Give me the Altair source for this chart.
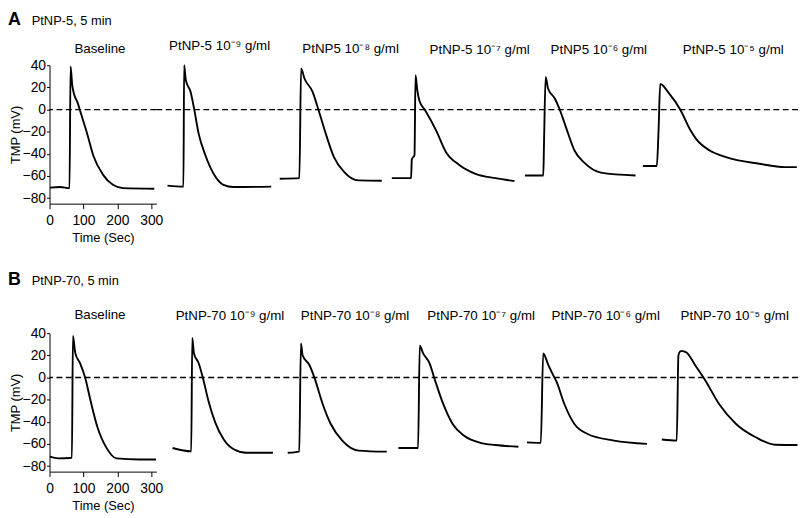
import altair as alt
import pandas as pd

FONT = "Liberation Sans"

# ---------------- Row A : PtNP-5, 5 min ----------------
a_heading = ["A", "PtNP-5, 5 min"]
a_titles = ["Baseline", "PtNP-5 10⁻⁹ g/ml", "PtNP5 10⁻⁸ g/ml",
            "PtNP-5 10⁻⁷ g/ml", "PtNP5 10⁻⁶ g/ml", "PtNP-5 10⁻⁵ g/ml"]

a0_t = [1, 32, 59, 62, 67, 73, 83, 92, 110, 129, 158, 187, 217, 309]
a0_v = [-70.5, -70, -71, 39, 22, 13.3, 6, -3, -20.7, -41.5, -59, -68, -71, -71.5]

a1_t = [33, 80, 82, 87, 101, 111, 125, 145, 169, 198, 227, 339]
a1_v = [-68.7, -69.6, 40, 26.7, 16, 1.5, -22, -41.5, -58, -68, -70, -69.6]

a2_t = [14, 72, 77, 87, 111, 125, 150, 174, 203, 247, 315]
a2_v = [-62.5, -62, 37, 28, 16, 3, -22, -43, -56, -64, -64.3]

a3_t = [15, 72, 74, 82, 85, 90, 97, 112, 146, 175, 214, 262, 321, 377]
a3_v = [-62, -62, -45, -41, 31, 18, 7.4, 0, -19, -38.5, -50, -58, -62, -64.6]

a4_t = [17, 71, 73, 78, 85, 105, 117, 139, 163, 192, 241, 343]
a4_v = [-59.6, -59.6, -33, 29.5, 19, 10, 2, -17, -37, -48, -57, -59.6]

a5_t = [12, 53, 58, 63, 88, 122, 151, 170, 209, 257, 355, 431, 466]
a5_v = [-51, -51, -20, 23, 15, 0, -18, -27, -37, -43, -49, -52, -52]

# ---------------- Row B : PtNP-70, 5 min ----------------
b_heading = ["B", "PtNP-70, 5 min"]
b_titles = ["Baseline", "PtNP-70 10⁻⁹ g/ml", "PtNP-70 10⁻⁸ g/ml",
            "PtNP-70 10⁻⁷ g/ml", "PtNP-70 10⁻⁶ g/ml", "PtNP-70 10⁻⁵ g/ml"]

b0_t = [1, 26, 66, 69, 76, 90, 105, 120, 140, 169, 197, 265, 314]
b0_v = [-71.5, -73, -72.5, 37.5, 22, 13, 0, -19.6, -43.5, -64, -73, -74, -74]

b1_t = [48, 103, 106, 111, 125, 138, 154, 174, 198, 227, 266, 344]
b1_v = [-63.7, -66.7, 35.7, 21.7, 12.8, -1.2, -21.4, -40.8, -55.6, -64.6, -68, -68]

b2_t = [23, 57, 62, 67, 87, 103, 125, 150, 184, 232, 315]
b2_v = [-68, -67, 30.7, 20, 11.3, -1.2, -23, -42, -57, -66, -67]

b3_t = [17, 75, 80, 90, 109, 123, 148, 177, 211, 259, 303, 371]
b3_v = [-63.7, -63.7, 28.6, 21.7, 12.8, -0.6, -23, -42, -52.7, -59, -61, -62.5]

b4_t = [14, 55, 62, 77, 91, 101, 125, 154, 193, 271, 368]
b4_v = [-58.6, -59, 21.7, 11.3, 2.4, -3.6, -24.4, -42, -51, -57, -60]

b5_t = [24, 68, 73, 78, 83, 90, 97, 122, 151, 194, 243, 301, 359, 424]
b5_v = [-56, -57, 20, 23.5, 24, 23.5, 22.6, 11.3, -2, -24.4, -42, -54, -60.7, -61]

y_ticks = [-80, -60, -40, -20, 0, 20, 40]
x_ticks = [0, 100, 200, 300]

# ---------------- layout constants ----------------
PX_PER_SEC = 108 / 315
H = 140
a_widths = [108, 120, 113, 134, 121, 161]
a_dx = [-3, 4, 20, 27, 20, 15]
b_widths = [108, 125, 114, 131, 133, 146]
b_dx = [-3, 12, 19, 24, 18, 9]


def panel(t, v, title, width, dx, first, extra):
    df = pd.DataFrame({"t": t, "v": v})
    xs = alt.Scale(domain=[0, width / PX_PER_SEC], nice=False, zero=False)
    ys = alt.Scale(domain=[-85, 40], nice=False, zero=False)
    if first:
        xax = alt.Axis(values=x_ticks, title="Time (Sec)", labelFlush=False,
                       tickSize=5, labelPadding=5, titlePadding=4)
        yax = alt.Axis(values=y_ticks, title="TMP (mV)", tickSize=3,
                       labelPadding=1, titlePadding=0)
        off = 3 + extra
    else:
        xax = None
        yax = None
        off = 9 + extra
    zero = alt.Chart(pd.DataFrame({"z": [0]})).mark_rule(
        color="black", strokeWidth=1.3, strokeDash=[6, 3.5]
    ).encode(y=alt.Y("z:Q", scale=ys, axis=yax))
    line = alt.Chart(df).mark_line(
        color="black", strokeWidth=1.9, interpolate="monotone"
    ).encode(
        x=alt.X("t:Q", scale=xs, axis=xax),
        y=alt.Y("v:Q", scale=ys, axis=yax),
        order="t:Q",
    )
    return alt.layer(zero, line).properties(
        width=width, height=H,
        title=alt.TitleParams(title, dx=dx, offset=off, fontSize=13.5,
                              fontWeight="normal", font=FONT, color="black"),
    )


def heading(texts, width, height, cy):
    la = alt.Chart(pd.DataFrame({"s": [texts[0]]})).mark_text(
        font=FONT, fontSize=18, fontWeight="bold", align="left",
        baseline="middle", color="black"
    ).encode(text="s:N", x=alt.value(-42), y=alt.value(cy))
    lb = alt.Chart(pd.DataFrame({"s": [texts[1]]})).mark_text(
        font=FONT, fontSize=13, align="left", baseline="middle", color="black"
    ).encode(text="s:N", x=alt.value(-18), y=alt.value(cy + 1))
    return alt.layer(la, lb).properties(width=width, height=height)


def row(ts, vs, titles, widths, dxs, extra):
    panels = [panel(ts[i], vs[i], titles[i], widths[i], dxs[i], i == 0, extra)
              for i in range(6)]
    return alt.hconcat(*panels, spacing=0, bounds="flush")


rowA = row([a0_t, a1_t, a2_t, a3_t, a4_t, a5_t],
           [a0_v, a1_v, a2_v, a3_v, a4_v, a5_v], a_titles, a_widths, a_dx, 0)
rowB = row([b0_t, b1_t, b2_t, b3_t, b4_t, b5_t],
           [b0_v, b1_v, b2_v, b3_v, b4_v, b5_v], b_titles, b_widths, b_dx, 2)

headA = heading(a_heading, sum(a_widths), 14, 6)
headB = heading(b_heading, sum(b_widths), 44, 26)

chart = alt.vconcat(headA, rowA, headB, rowB, spacing=10).configure(
    background="white", padding=0
).configure_view(
    stroke=None
).configure_axis(
    grid=False, domainColor="black", tickColor="black", labelColor="black",
    titleColor="black", labelFont=FONT, titleFont=FONT, labelFontSize=14,
    titleFontSize=13, titleFontWeight="normal", domainWidth=1, tickWidth=1,
)

chart.save("out.html", embed_options={"renderer": "svg", "actions": False})
